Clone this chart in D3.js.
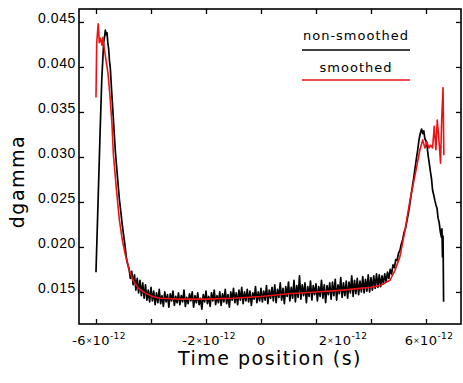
<!DOCTYPE html>
<html>
<head>
<meta charset="utf-8">
<script src="https://cdn.jsdelivr.net/npm/d3@7"></script>
<style>
  body { margin: 0; background: #fff; }
  svg { font-family: "DejaVu Sans", sans-serif; }
</style>
</head>
<body>
<svg id="chart" width="463" height="383"></svg>
<script>

// time in units of 1e-12 s
var timePs = [
  -6.00,-5.93,-5.86,-5.79,-5.75,-5.72,-5.69,-5.66,-5.63,-5.60,
  -5.57,-5.54,-5.51,-5.48,-5.44,-5.40,-5.35,-5.30,-5.25,-5.20,
  -5.15,-5.10,-5.05,-5.00,-4.95,-4.90,-4.85,
  -4.80,-4.75,-4.70,-4.65,-4.60,-4.55,-4.50,-4.45,-4.40,-4.35,
  -4.30,-4.25,-4.20,-4.15,-4.10,-4.05,-4.00,-3.95,-3.90,-3.85,
  -3.80,-3.75,-3.70,-3.65,-3.60,-3.55,-3.50,-3.45,-3.40,-3.35,
  -3.30,-3.25,-3.20,-3.15,-3.10,-3.05,-3.00,-2.95,-2.90,-2.85,
  -2.80,-2.75,-2.70,-2.65,-2.60,-2.55,-2.50,-2.45,-2.40,-2.35,
  -2.30,-2.25,-2.20,-2.15,-2.10,-2.05,-2.00,-1.95,-1.90,-1.85,
  -1.80,-1.75,-1.70,-1.65,-1.60,-1.55,-1.50,-1.45,-1.40,-1.35,
  -1.30,-1.25,-1.20,-1.15,-1.10,-1.05,-1.00,-0.95,-0.90,-0.85,
  -0.80,-0.75,-0.70,-0.65,-0.60,-0.55,-0.50,-0.45,-0.40,-0.35,
  -0.30,-0.25,-0.20,-0.15,-0.10,-0.05, 0.00, 0.05, 0.10, 0.15,
   0.20, 0.25, 0.30, 0.35, 0.40, 0.45, 0.50, 0.55, 0.60, 0.65,
   0.70, 0.75, 0.80, 0.85, 0.90, 0.95, 1.00, 1.05, 1.10, 1.15,
   1.20, 1.25, 1.30, 1.35, 1.40, 1.45, 1.50, 1.55, 1.60, 1.65,
   1.70, 1.75, 1.80, 1.85, 1.90, 1.95, 2.00, 2.05, 2.10, 2.15,
   2.20, 2.25, 2.30, 2.35, 2.40, 2.45, 2.50, 2.55, 2.60, 2.65,
   2.70, 2.75, 2.80, 2.85, 2.90, 2.95, 3.00, 3.05, 3.10, 3.15,
   3.20, 3.25, 3.30, 3.35, 3.40, 3.45, 3.50, 3.55, 3.60, 3.65,
   3.70, 3.75, 3.80, 3.85, 3.90, 3.95, 4.00, 4.05, 4.10, 4.15,
   4.20, 4.25, 4.30, 4.35, 4.40, 4.45, 4.50, 4.55, 4.60, 4.65,
   4.70, 4.75, 4.80, 4.85, 4.90, 4.95, 5.00, 5.05, 5.10, 5.15,
   5.20, 5.25, 5.30, 5.35, 5.40, 5.45, 5.50, 5.55, 5.60, 5.65,
   5.70, 5.75, 5.80, 5.84, 5.88, 5.92, 5.96, 6.00, 6.04, 6.08,
   6.12, 6.16, 6.20, 6.24, 6.28, 6.32, 6.36, 6.40, 6.44, 6.48,
   6.52, 6.56, 6.58, 6.60, 6.62, 6.64
];
var dgammaRaw = [
  0.0172,0.0245,0.0318,0.0386,0.0410,0.0428,0.0433,0.0441,0.0436,0.0438,
  0.0427,0.0420,0.0407,0.0399,0.0378,0.0358,0.0333,0.0308,0.0289,0.0271,
  0.0253,0.0240,0.0226,0.0214,0.0203,0.0189,0.0181,
  0.0176,0.0165,0.0173,0.0158,0.0169,0.0152,0.0165,0.0149,0.0163,0.0146,
  0.0160,0.0143,0.0158,0.0141,0.0152,0.0139,0.0155,0.0140,0.0151,0.0136,
  0.0149,0.0138,0.0153,0.0137,0.0146,0.0134,0.0150,0.0139,0.0147,0.0133,
  0.0148,0.0140,0.0151,0.0135,0.0145,0.0138,0.0149,0.0136,0.0146,0.0139,
  0.0152,0.0134,0.0144,0.0137,0.0148,0.0140,0.0150,0.0133,0.0146,0.0138,
  0.0149,0.0136,0.0143,0.0131,0.0147,0.0139,0.0151,0.0137,0.0145,0.0134,
  0.0149,0.0140,0.0152,0.0136,0.0146,0.0138,0.0150,0.0135,0.0148,0.0139,
  0.0153,0.0137,0.0147,0.0133,0.0150,0.0141,0.0154,0.0138,0.0149,0.0136,
  0.0152,0.0141,0.0155,0.0137,0.0150,0.0140,0.0153,0.0139,0.0151,0.0135,
  0.0149,0.0142,0.0156,0.0138,0.0150,0.0140,0.0154,0.0139,0.0151,0.0141,
  0.0157,0.0137,0.0152,0.0143,0.0155,0.0140,0.0158,0.0138,0.0153,0.0144,
  0.0160,0.0141,0.0154,0.0137,0.0156,0.0145,0.0161,0.0140,0.0155,0.0143,
  0.0163,0.0139,0.0157,0.0144,0.0168,0.0142,0.0158,0.0146,0.0160,0.0138,
  0.0156,0.0145,0.0162,0.0141,0.0157,0.0147,0.0159,0.0140,0.0156,0.0145,
  0.0163,0.0143,0.0158,0.0138,0.0157,0.0147,0.0160,0.0142,0.0161,0.0146,
  0.0164,0.0141,0.0158,0.0148,0.0166,0.0144,0.0160,0.0146,0.0162,0.0143,
  0.0161,0.0149,0.0168,0.0145,0.0163,0.0148,0.0165,0.0147,0.0162,0.0150,
  0.0167,0.0149,0.0164,0.0151,0.0169,0.0150,0.0166,0.0152,0.0168,0.0154,
  0.0170,0.0155,0.0169,0.0156,0.0168,0.0159,0.0170,0.0161,0.0172,0.0165,
  0.0175,0.0170,0.0180,0.0177,0.0186,0.0185,0.0193,0.0196,0.0203,0.0208,
  0.0216,0.0220,0.0228,0.0236,0.0245,0.0256,0.0266,0.0276,0.0287,0.0298,
  0.0308,0.0320,0.0327,0.0331,0.0326,0.0329,0.0320,0.0318,0.0312,0.0301,
  0.0293,0.0284,0.0276,0.0263,0.0258,0.0252,0.0247,0.0243,0.0232,0.0227,
  0.0217,0.0211,0.0220,0.0189,0.0212,0.0139
];

var smoothTimePs = [
  -6.000,-5.975,-5.920,-5.880,-5.836,-5.780,-5.745,-5.710,-5.636,-5.564,
  -5.490,-5.418,-5.370,-5.260,-5.150,-5.050,-4.945,-4.800,-4.655,-4.450,
  -4.218,-3.950,-3.673,-3.000,-2.000,-1.000, 0.000, 1.000, 2.000, 3.000,
   3.600, 3.960, 4.330, 4.690, 4.870, 5.050, 5.240, 5.420, 5.660, 5.780,
   5.880, 5.960, 6.030, 6.110, 6.170, 6.240, 6.300, 6.360, 6.410, 6.470,
   6.530, 6.570, 6.620, 6.650
];
var dgammaSmooth = [
  0.0366,0.0426,0.0448,0.0427,0.0432,0.0424,0.0433,0.0423,0.0408,0.0393,
  0.0367,0.0336,0.0304,0.0265,0.0230,0.0209,0.0193,0.0175,0.0163,0.0154,
  0.0149,0.0145,0.0143,0.0142,0.0142,0.0143,0.0145,0.0148,0.0150,0.0152,
  0.0154,0.0155,0.0157,0.0163,0.0174,0.0189,0.0219,0.0252,0.0289,0.0308,
  0.0319,0.0310,0.0317,0.0310,0.0313,0.0310,0.0334,0.0308,0.0341,0.0319,
  0.0293,0.0341,0.0377,0.0302
];

var xTicksPs = [-6, -4, -2, 0, 2, 4, 6];
var xLabelPs = [-6, -2, 0, 2, 6];
var yTicks = [0.015, 0.020, 0.025, 0.030, 0.035, 0.040, 0.045];
var legendNames = ['non-smoothed', 'smoothed'];
var seriesColors = ['#000000', '#ee1111'];

var svg = d3.select('#chart');
var L = 79, R = 461, T = 9, B = 324;

var x = d3.scaleLinear().domain([-6.618, 7.273]).range([L, R]);
var y = d3.scaleLinear().domain([0.01144, 0.04644]).range([B, T]);

// data lines
var line = d3.line()
  .x(function(d) { return x(d[0]); })
  .y(function(d) { return y(d[1]); });

svg.append('path')
  .datum(d3.zip(timePs, dgammaRaw))
  .attr('d', line)
  .attr('fill', 'none')
  .attr('stroke', seriesColors[0])
  .attr('stroke-width', 1.7)
  .attr('stroke-linejoin', 'round');

svg.append('path')
  .datum(d3.zip(smoothTimePs, dgammaSmooth))
  .attr('d', line)
  .attr('fill', 'none')
  .attr('stroke', seriesColors[1])
  .attr('stroke-width', 1.6)
  .attr('stroke-linejoin', 'round');

// axes, ticks pointing inward on all four sides
var gB = svg.append('g').attr('transform', 'translate(0,' + B + ')')
  .call(d3.axisBottom(x).tickValues(xTicksPs).tickSize(-5).tickFormat(''));
var gT = svg.append('g').attr('transform', 'translate(0,' + T + ')')
  .call(d3.axisTop(x).tickValues(xTicksPs).tickSize(-5).tickFormat(''));
var gL = svg.append('g').attr('transform', 'translate(' + L + ',0)')
  .call(d3.axisLeft(y).tickValues(yTicks).tickSize(-5).tickPadding(3)
    .tickFormat(d3.format('.3f')));
var gR = svg.append('g').attr('transform', 'translate(' + R + ',0)')
  .call(d3.axisRight(y).tickValues(yTicks).tickSize(-5).tickFormat(''));

[gB, gT, gL, gR].forEach(function(g) {
  g.select('.domain').remove();
  g.selectAll('.tick line').attr('stroke', '#000').attr('stroke-width', 1.3);
});

gL.selectAll('.tick text')
  .attr('dy', '0.05em')
  .attr('fill', '#000')
  .style('font-size', '14px')
  .style('letter-spacing', '0.6px');

svg.append('rect')
  .attr('x', L).attr('y', T)
  .attr('width', R - L).attr('height', B - T)
  .attr('fill', 'none')
  .attr('stroke', '#000')
  .attr('stroke-width', 1.6);

// x tick labels like "-6x10^-12"
var labelShift = { '2': 24 };
xLabelPs.forEach(function(v) {
  var t = svg.append('text')
    .attr('x', x(v) + (labelShift[v] || 0) + (v === 0 ? 0 : 3))
    .attr('y', 345)
    .attr('text-anchor', 'middle')
    .style('font-size', '13px')
    .style('letter-spacing', '0.4px');
  if (v === 0) { t.text('0'); return; }
  t.append('tspan').text(v < 0 ? '-' + (-v) : String(v));
  t.append('tspan').style('font-size', '7.5px').attr('dy', -2).text('\u00d7');
  t.append('tspan').attr('dy', 2).text('10');
  t.append('tspan').style('font-size', '9px').attr('dy', -6).text('-12');
});

// axis titles
svg.append('text')
  .attr('x', (L + R) / 2)
  .attr('y', 365)
  .attr('text-anchor', 'middle')
  .style('font-size', '19px')
  .style('letter-spacing', '1.5px')
  .text('Time position (s)');

svg.append('text')
  .attr('transform', 'translate(24,' + ((T + B) / 2 + 15) + ') rotate(-90)')
  .attr('text-anchor', 'middle')
  .style('font-size', '19px')
  .style('letter-spacing', '1.5px')
  .text('dgamma');

// legend
var legY = [[40, 50], [72, 80]];
legendNames.forEach(function(name, i) {
  svg.append('text')
    .attr('x', 356)
    .attr('y', legY[i][0])
    .attr('text-anchor', 'middle')
    .style('font-size', '13px')
    .style('letter-spacing', '1px')
    .text(name);
  svg.append('line')
    .attr('x1', 302).attr('x2', 410)
    .attr('y1', legY[i][1]).attr('y2', legY[i][1])
    .attr('stroke', seriesColors[i])
    .attr('stroke-width', 1.6);
});

</script>
</body>
</html>
